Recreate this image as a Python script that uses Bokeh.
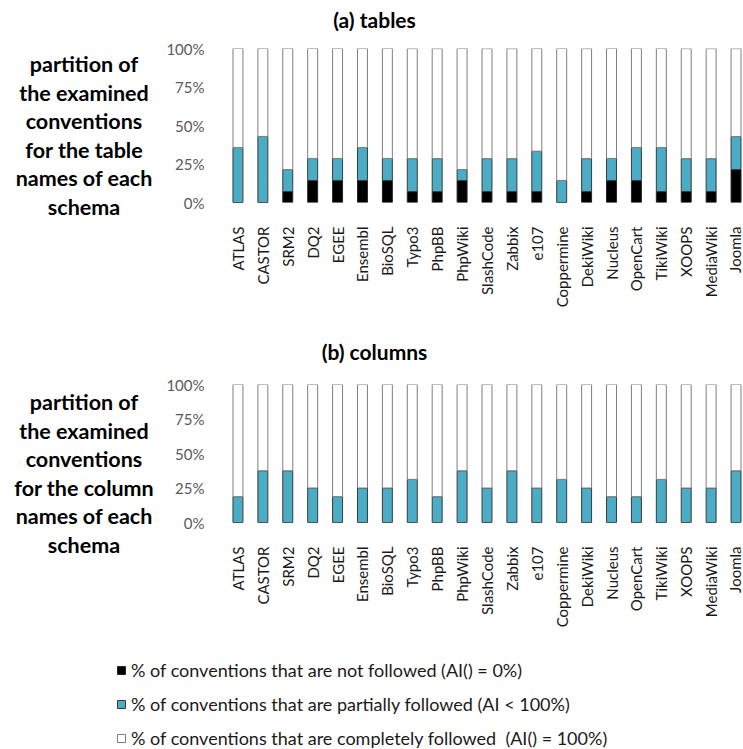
import math
from bokeh.plotting import figure
from bokeh.layouts import column, row
from bokeh.models import Range1d, FixedTicker, Legend, LegendItem, ColumnDataSource, Div
from bokeh.core.properties import value
from bokeh.embed import file_html
from bokeh.resources import INLINE

# ---------------- data ----------------
schemas = ["ATLAS", "CASTOR", "SRM2", "DQ2", "EGEE", "Ensembl", "BioSQL", "Typo3", "PhpBB",
           "PhpWiki", "SlashCode", "Zabbix", "e107", "Coppermine", "DekiWiki", "Nucleus",
           "OpenCart", "TikiWiki", "XOOPS", "MediaWiki", "Joomla"]

# (a) tables, percentages
tables_not_followed = [0, 0, 7.1, 14.3, 14.3, 14.3, 14.3, 7.1, 7.1, 14.3, 7.1, 7.1, 7.1, 0,
                       7.1, 14.3, 14.3, 7.1, 7.1, 7.1, 21.4]
tables_partial = [35.7, 42.9, 14.3, 14.3, 14.3, 21.4, 14.3, 21.4, 21.4, 7.1, 21.4, 21.4, 26.2,
                  14.3, 21.4, 14.3, 21.4, 28.6, 21.4, 21.4, 21.4]
tables_complete = [64.3, 57.1, 78.6, 71.4, 71.4, 64.3, 71.4, 71.4, 71.4, 78.6, 71.4, 71.4, 66.7,
                   85.7, 71.4, 71.4, 64.3, 64.3, 71.4, 71.4, 57.1]

# (b) columns, percentages
columns_not_followed = [0, 0, 0, 0, 0, 0, 0, 0, 0, 0, 0, 0, 0, 0, 0, 0, 0, 0, 0, 0, 0]
columns_partial = [18.75, 37.5, 37.5, 25, 18.75, 25, 25, 31.25, 18.75, 37.5, 25, 37.5, 25,
                   31.25, 25, 18.75, 18.75, 31.25, 25, 25, 37.5]
columns_complete = [81.25, 62.5, 62.5, 75, 81.25, 75, 75, 68.75, 81.25, 62.5, 75, 62.5, 75,
                    68.75, 75, 81.25, 81.25, 68.75, 75, 75, 62.5]

y_ticks = [0, 25, 50, 75, 100]
y_tick_labels = ["0%", "25%", "50%", "75%", "100%"]

title_a = "(a) tables"
title_b = "(b) columns"
ylabel_a = ["partition of", "the examined", "conventions", "for the table", "names of each", "schema"]
ylabel_b = ["partition of", "the examined", "conventions", "for the column", "names of each", "schema"]

legend_labels = ["% of conventions that are not followed (AI() = 0%)",
                 "% of conventions that are partially followed (AI < 100%)",
                 "% of conventions that are completely followed  (AI() = 100%)"]

# ---------------- style ----------------
FONT = "Lato"
TEAL = "#4BACC6"
FILLS = ["black", TEAL, "white"]
LINES = ["#262626", "#3a3a3a", "#7f7f7f"]

W = 743
TEXT_W = 163          # left text column width
CHART_W = W - TEXT_W  # chart figure width
CHART_BORDER_L = 60   # room for tick labels
CAT_PX = 25.0


def blank(width, height):
    p = figure(width=width, height=height, output_backend="svg", toolbar_location=None,
               x_range=Range1d(0, width), y_range=Range1d(height, 0),
               x_axis_type=None, y_axis_type=None,
               min_border=0, min_border_left=0, min_border_right=0,
               min_border_top=0, min_border_bottom=0)
    p.outline_line_color = None
    p.grid.visible = False
    return p


def title_fig(text, height, ty):
    p = blank(W, height)
    p.text(x=[374], y=[ty], text=[text], text_align="center", text_baseline="middle",
           text_font=value(FONT), text_font_style="bold", text_font_size="21px",
           text_color="black")
    return p


def text_div(lines, height, pad_top):
    return Div(text="<br>".join(lines), width=TEXT_W, height=height, margin=0,
               styles={"font-family": FONT, "font-weight": "bold", "font-size": "21.5px",
                       "line-height": "28.5px", "text-align": "center", "color": "black",
                       "padding-top": f"{pad_top}px", "padding-left": "5px",
                       "box-sizing": "border-box", "width": f"{TEXT_W}px"})


def chart_fig(height, border_top, border_bottom, not_f, part, comp):
    frame_w = CHART_W - CHART_BORDER_L
    p = figure(width=CHART_W, height=height, output_backend="svg", toolbar_location=None,
               x_range=Range1d(-0.5, -0.5 + frame_w / CAT_PX), y_range=Range1d(0, 100),
               min_border_left=CHART_BORDER_L, min_border_right=0,
               min_border_top=border_top, min_border_bottom=border_bottom)
    p.outline_line_color = None
    p.grid.visible = False

    src = ColumnDataSource(dict(x=list(range(len(schemas))), notf=not_f, part=part, comp=comp))
    rs = p.vbar_stack(["notf", "part", "comp"], x="x", width=0.4, source=src,
                      fill_color=FILLS, line_color=LINES, line_width=1)

    ya = p.yaxis[0]
    ya.ticker = FixedTicker(ticks=y_ticks)
    ya.major_label_overrides = {t: l for t, l in zip(y_ticks, y_tick_labels)}
    ya.axis_line_color = None
    ya.major_tick_line_color = None
    ya.minor_tick_line_color = None
    ya.major_label_standoff = 15
    ya.major_label_text_font = FONT
    ya.major_label_text_font_size = "15px"
    ya.major_label_text_color = "#595959"

    xa = p.xaxis[0]
    xa.ticker = FixedTicker(ticks=list(range(len(schemas))))
    xa.major_label_overrides = {i: s for i, s in enumerate(schemas)}
    xa.major_label_orientation = math.pi / 2
    xa.axis_line_color = None
    xa.major_tick_line_color = None
    xa.minor_tick_line_color = None
    xa.major_label_standoff = 18
    xa.major_label_text_font = FONT
    xa.major_label_text_font_size = "15px"
    xa.major_label_text_color = "#1a1a1a"
    return p, rs


# ---- top block (page rows 0..310) ----
t_a = title_fig(title_a, 34, 19)
ROW_A_H = 276
chart_a, _ = chart_fig(ROW_A_H, 14, ROW_A_H - 183, tables_not_followed, tables_partial, tables_complete)
text_a = text_div(ylabel_a, ROW_A_H, 16)

# ---- bottom block (page rows 310..630) ----
t_b = title_fig(title_b, 60, 41)
ROW_B_H = 260
chart_b, _ = chart_fig(ROW_B_H, 14, ROW_B_H - 156, columns_not_followed, columns_partial, columns_complete)
text_b = text_div(ylabel_b, ROW_B_H, 18)

# ---- legend (page rows 630..749) ----
LEG_H = 119
leg = blank(W, LEG_H)
leg_src = ColumnDataSource(dict(x=list(range(len(schemas))), notf=columns_not_followed,
                                part=columns_partial, comp=columns_complete))
proxies = leg.vbar_stack(["notf", "part", "comp"], x="x", width=0.4, source=leg_src,
                         fill_color=FILLS, line_color=LINES, line_width=1)
for r in proxies:
    r.visible = False
legend = Legend(items=[LegendItem(label=lbl, renderers=[r]) for lbl, r in zip(legend_labels, proxies)],
                location=(116, 0), orientation="vertical")
legend.border_line_color = None
legend.background_fill_alpha = 0
legend.inactive_fill_alpha = 0
legend.click_policy = "none"
legend.padding = 0
legend.margin = 0
legend.glyph_width = 10
legend.glyph_height = 10
legend.label_standoff = 5
legend.label_height = 22
legend.spacing = 12
legend.label_text_font = FONT
legend.label_text_font_size = "18px"
legend.label_text_color = "#1a1a1a"
leg.add_layout(legend)

layout = column(t_a, row(text_a, chart_a, spacing=0), t_b, row(text_b, chart_b, spacing=0), leg,
                spacing=0)
open("out.html", "w").write(file_html(layout, INLINE))
